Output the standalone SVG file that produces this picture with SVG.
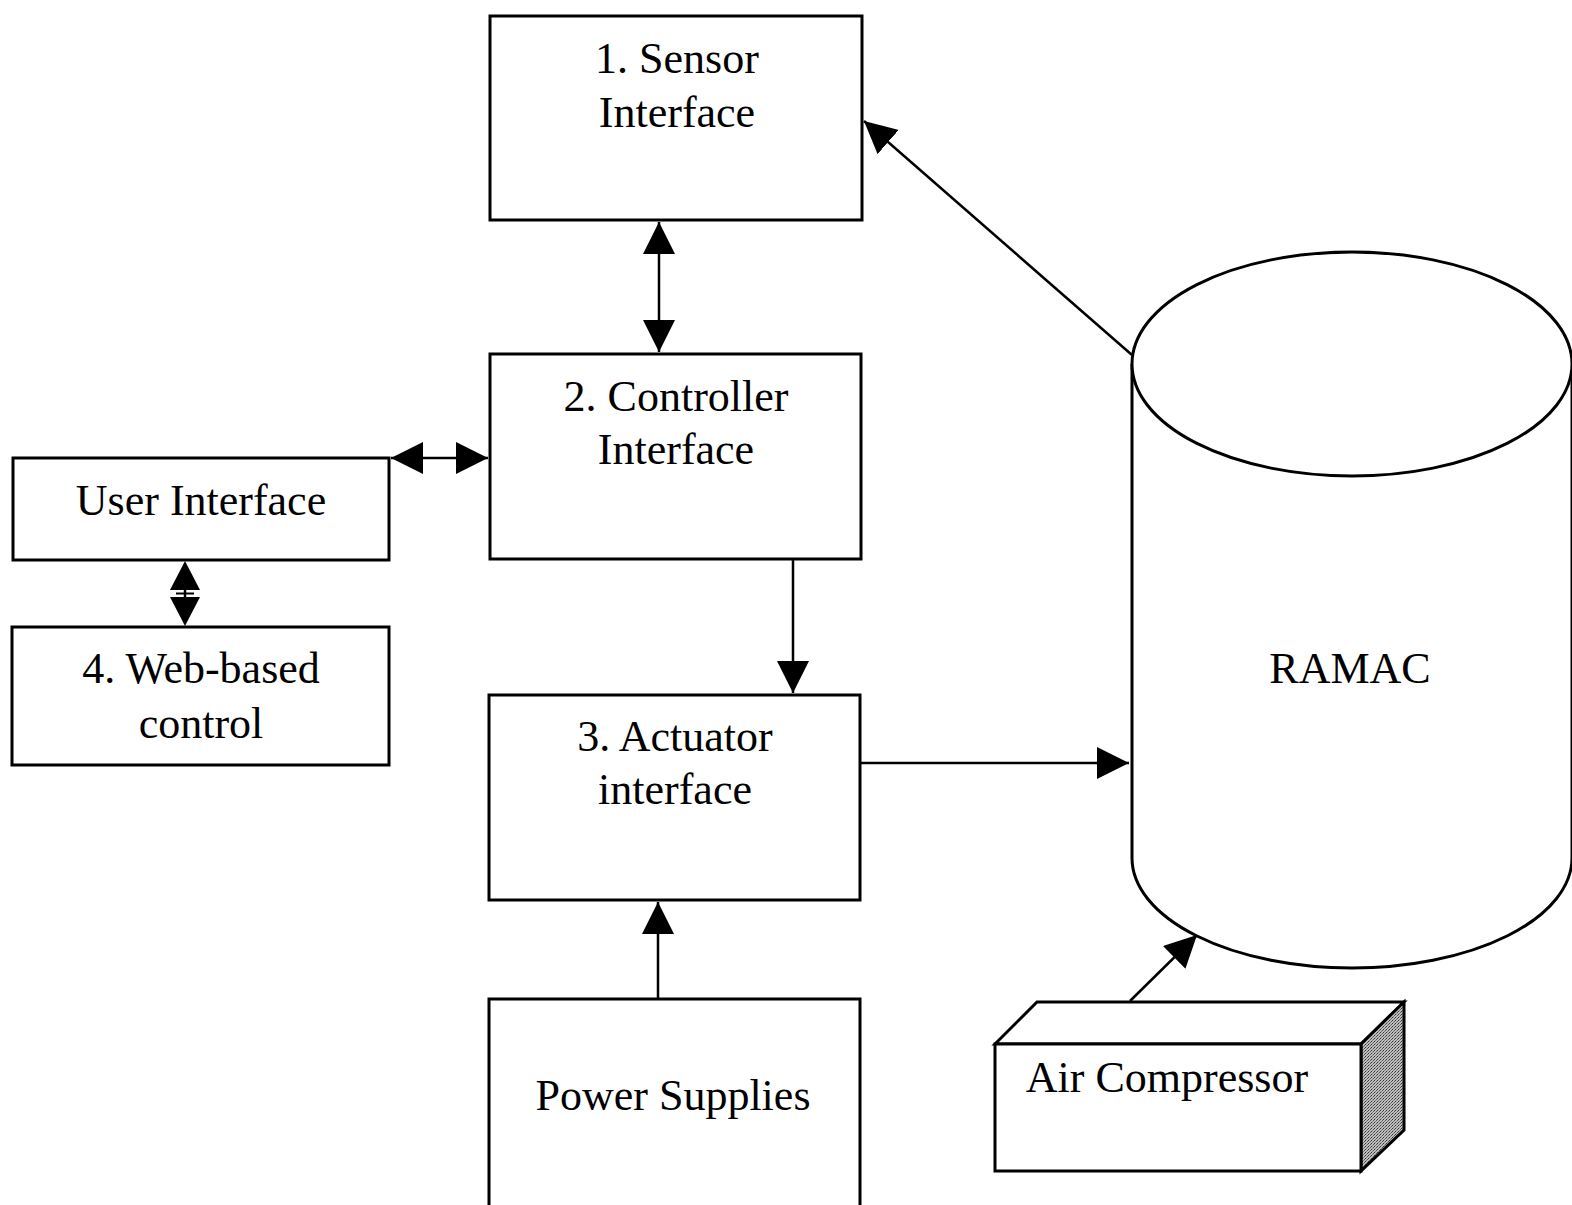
<svg xmlns="http://www.w3.org/2000/svg" width="1572" height="1205" viewBox="0 0 1572 1205">
<style>
.box{fill:#fff;stroke:#000;stroke-width:3}
.t{font-family:"Liberation Serif","Times New Roman",serif;font-size:44px;fill:#000;text-anchor:middle}
.c{fill:none;stroke:#000;stroke-width:2.5}
</style>
<defs>
<marker id="ah" markerUnits="userSpaceOnUse" markerWidth="32" markerHeight="32" refX="30" refY="15" orient="auto-start-reverse" viewBox="0 0 30 30">
<path d="M0,0 L30,15 L0,30 z" fill="#000"/>
</marker>
<pattern id="stip" width="3" height="3" patternUnits="userSpaceOnUse">
<rect width="3" height="3" fill="#bdbdbd"/>
<rect x="0" y="0" width="1" height="1" fill="#333"/>
<rect x="2" y="1" width="1" height="1" fill="#555"/>
<rect x="1" y="2" width="1" height="1" fill="#777"/>
</pattern>
</defs>
<rect width="1572" height="1205" fill="#fff"/>
<g id="ramac">
<path d="M1132,364 L1132,858 A220,110 0 0 0 1572,858 L1572,364" fill="#fff" stroke="#000" stroke-width="3"/>
<ellipse cx="1352" cy="364" rx="220" ry="112" fill="#fff" stroke="#000" stroke-width="3"/>
<text class="t" x="1350" y="683">RAMAC</text>
</g>
<g id="sensor">
<rect class="box" x="490" y="16" width="372" height="204"/>
<text class="t" x="677" y="73">1. Sensor</text>
<text class="t" x="677" y="127">Interface</text>
</g>
<g id="controller">
<rect class="box" x="490" y="354" width="371" height="205"/>
<text class="t" x="676" y="411">2. Controller</text>
<text class="t" x="676" y="464">Interface</text>
</g>
<g id="actuator">
<rect class="box" x="489" y="695" width="371" height="205"/>
<text class="t" x="675" y="751">3. Actuator</text>
<text class="t" x="675" y="804">interface</text>
</g>
<g id="power">
<rect class="box" x="489" y="999" width="371" height="215"/>
<text class="t" x="673" y="1110">Power Supplies</text>
</g>
<g id="user">
<rect class="box" x="13" y="458" width="376" height="102"/>
<text class="t" x="201" y="515">User Interface</text>
</g>
<g id="web">
<rect class="box" x="12" y="627" width="377" height="138"/>
<text class="t" x="201" y="683">4. Web-based</text>
<text class="t" x="201" y="738">control</text>
</g>
<g id="compressor">
<path d="M995,1044 L1037,1002 L1404,1002 L1361,1044 Z" fill="#fff" stroke="#000" stroke-width="3" stroke-linejoin="miter"/>
<path d="M1361,1044 L1404,1002 L1404,1130 L1361,1171 Z" fill="url(#stip)" stroke="#000" stroke-width="3"/>
<rect class="box" x="995" y="1044" width="366" height="127"/>
<text class="t" x="1167" y="1092">Air Compressor</text>
</g>
<g id="connectors">
<line class="c" x1="659" y1="222" x2="659" y2="352" marker-start="url(#ah)" marker-end="url(#ah)"/>
<line class="c" x1="391" y1="458" x2="488" y2="458" marker-start="url(#ah)" marker-end="url(#ah)"/>
<g id="user-web">
<line class="c" x1="185" y1="585" x2="185" y2="602"/>
<line x1="176" y1="593.5" x2="194" y2="593.5" stroke="#000" stroke-width="2"/>
<path d="M185,561 L200,590 L170,590 Z" fill="#000"/>
<path d="M185,626 L200,597 L170,597 Z" fill="#000"/>
</g>
<line class="c" x1="793" y1="560" x2="793" y2="693" marker-end="url(#ah)"/>
<line class="c" x1="861" y1="763" x2="1129" y2="763" marker-end="url(#ah)"/>
<line class="c" x1="658" y1="999" x2="658" y2="902" marker-end="url(#ah)"/>
<line class="c" x1="1132" y1="355" x2="864" y2="121" marker-end="url(#ah)"/>
<line class="c" x1="1130" y1="1001" x2="1197" y2="935" marker-end="url(#ah)"/>
</g>
</svg>
